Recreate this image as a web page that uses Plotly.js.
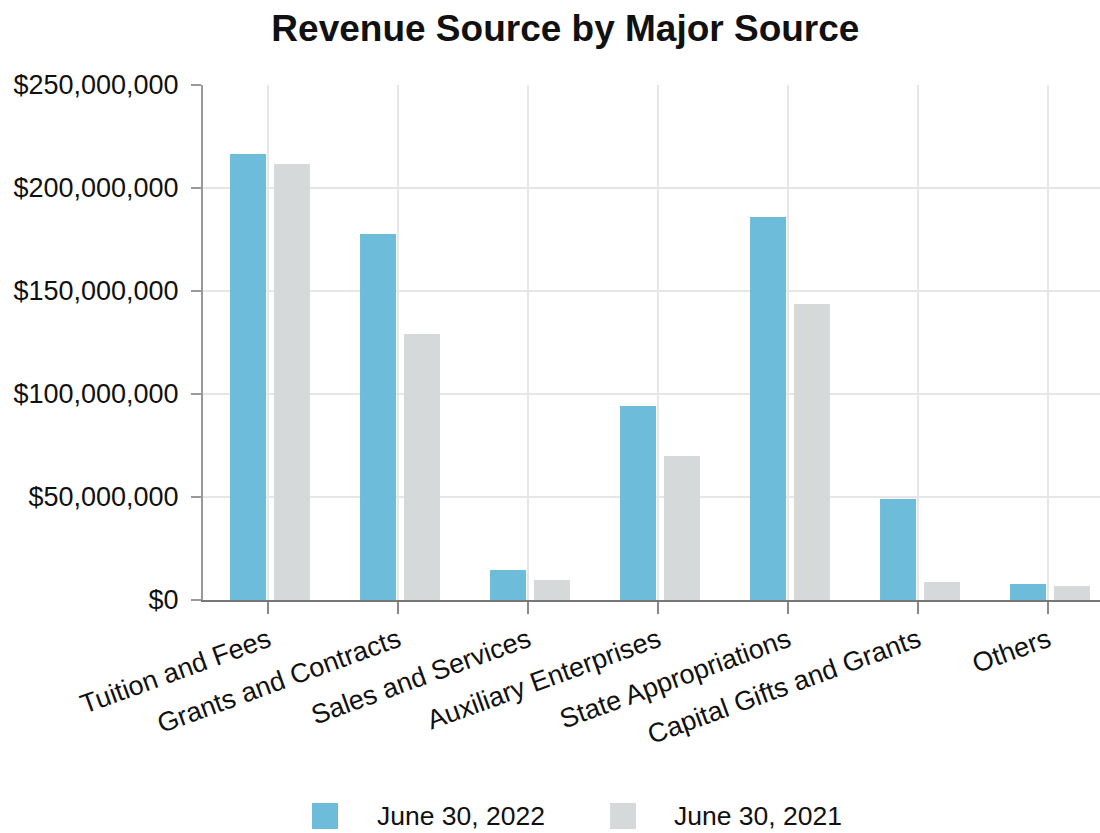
<!DOCTYPE html>
<html><head><meta charset="utf-8">
<script src="https://cdn.plot.ly/plotly-3.0.1.min.js"></script>
<style>body{margin:0;background:#fff}#chart{width:1100px;height:833px}</style>
</head><body><div id="chart"></div>
<script>
const categories = ["Tuition and Fees","Grants and Contracts","Sales and Services","Auxiliary Enterprises","State Appropriations","Capital Gifts and Grants","Others"];
const values2022 = [216500000,177700000,14600000,94200000,185900000,49000000,7800000];
const values2021 = [211700000,129100000,9700000,69900000,143700000,8700000,6800000];
const seriesNames = ["June 30, 2022","June 30, 2021"];
const seriesColors = ['#6CBCDA','#D6D9DA'];

const data = [
  {type:'bar', x:categories, y:values2022, name:seriesNames[0], marker:{color:seriesColors[0]}, width:0.277, offset:-0.292},
  {type:'bar', x:categories, y:values2021, name:seriesNames[1], marker:{color:seriesColors[1]}, width:0.277, offset:0.046}
];

// custom legend (large square swatches) in pixel -> paper coordinates
const L = 203, W = 897, B = 600, H = 515;
const px = v => (v - L) / W, py = v => (B - v) / H;
const legendItems = [{sx:312, tx:375}, {sx:610, tx:672}];
const shapes = [], annotations = [];
legendItems.forEach((it, i) => {
  shapes.push({type:'rect', xref:'paper', yref:'paper', x0:px(it.sx), x1:px(it.sx+26), y0:py(829), y1:py(803),
               fillcolor:seriesColors[i], line:{width:0}});
  annotations.push({xref:'paper', yref:'paper', x:px(it.tx), y:py(816), xanchor:'left', yanchor:'middle',
               text:seriesNames[i], showarrow:false, font:{size:26.5}});
});

const layout = {
  width:1100, height:833,
  margin:{l:203, r:0, t:85, b:233},
  font:{family:'Liberation Sans, Arial, sans-serif', size:27, color:'#111'},
  title:{text:'<b>Revenue Source by Major Source</b>', font:{size:37, color:'#111'}, x:0.514, xanchor:'center', y:0.966, yanchor:'middle'},
  barmode:'group',
  xaxis:{type:'category', range:[-0.5,6.4], showgrid:true, gridcolor:'#e6e6e6', gridwidth:2,
         showline:true, linecolor:'#777', linewidth:2, ticks:'outside', ticklen:12, tickwidth:2, tickcolor:'#888',
         tickangle:-20, tickfont:{size:27}},
  yaxis:{range:[0,250000000], dtick:50000000, tickformat:'$,.0f', showgrid:true, gridcolor:'#e6e6e6', gridwidth:2,
         showline:true, linecolor:'#999', linewidth:2, ticks:'outside', ticklen:10, tickwidth:2, tickcolor:'#999',
         ticklabelstandoff:7, zeroline:false, tickfont:{size:27}},
  showlegend:false,
  shapes:shapes, annotations:annotations,
  plot_bgcolor:'#fff', paper_bgcolor:'#fff'
};
Plotly.newPlot('chart', data, layout, {displayModeBar:false});
</script></body></html>
